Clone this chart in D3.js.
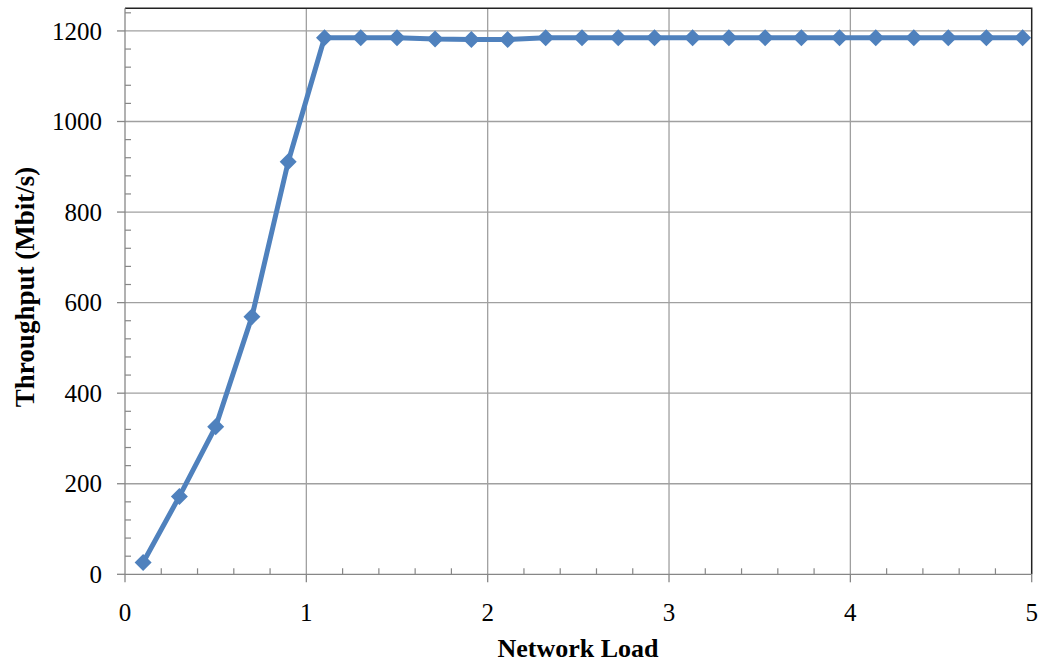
<!DOCTYPE html>
<html><head><meta charset="utf-8">
<script src="https://cdn.jsdelivr.net/npm/d3@7"></script>
<style>body{margin:0;background:#fff}svg{display:block}</style>
</head><body>
<svg id="c" width="1042" height="664"></svg>
<script>
const loadValues = [0.1,0.3,0.5,0.7,0.9,1.1,1.3,1.5,1.71,1.91,2.11,2.32,2.52,2.72,2.92,3.13,3.33,3.53,3.73,3.94,4.14,4.35,4.54,4.75,4.95];
const throughput = [26,172,326,569,911,1185,1185,1185,1182,1181,1181,1185,1185,1185,1185,1185,1185,1185,1185,1185,1185,1185,1185,1185,1185];
const xTicks = [0,1,2,3,4,5];
const yTicks = [0,200,400,600,800,1000,1200];
const xLabel = "Network Load";
const yLabel = "Throughput (Mbit/s)";

const svg = d3.select("#c");
const L=125, R=1031.7, T=8.3, B=574.3;
const x = d3.scaleLinear().domain([0,5]).range([L,R]);
const y = d3.scaleLinear().domain([0,1250]).range([B,T]);
const grid="#a0a0a0", axisC="#878787", font="'Liberation Serif','Times New Roman',serif";

// gridlines
svg.append("g").selectAll("line").data(yTicks.filter(d=>d>0)).join("line")
 .attr("x1",L).attr("x2",R).attr("y1",d=>y(d)).attr("y2",d=>y(d)).attr("stroke",grid).attr("stroke-width",1.3);
svg.append("g").selectAll("line").data(xTicks.filter(d=>d>0&&d<5)).join("line")
 .attr("y1",T).attr("y2",B).attr("x1",d=>x(d)).attr("x2",d=>x(d)).attr("stroke",grid).attr("stroke-width",1.3);
// border top/right
svg.append("path").attr("d",`M${L},${T}H${R}V${B}`).attr("fill","none").attr("stroke","#222").attr("stroke-width",1.5);

// y axis
const yMinor = d3.range(0,1250.1,40);
const ya = svg.append("g").attr("transform",`translate(${L},0)`);
ya.append("line").attr("x1",0).attr("x2",0).attr("y1",T).attr("y2",B).attr("stroke",axisC).attr("stroke-width",1.3);
ya.selectAll(".mn").data(yMinor.filter(d=>d%200!==0)).join("line").attr("x1",0).attr("x2",6).attr("y1",d=>y(d)).attr("y2",d=>y(d)).attr("stroke",axisC).attr("stroke-width",1.2);
ya.selectAll(".mj").data(yTicks).join("line").attr("x1",-8).attr("x2",0).attr("y1",d=>y(d)).attr("y2",d=>y(d)).attr("stroke",axisC).attr("stroke-width",1.3);
ya.selectAll("text").data(yTicks).join("text").attr("x",-23).attr("y",d=>y(d)).attr("dy","0.35em").attr("text-anchor","end")
 .attr("font-family",font).attr("font-size",25).attr("fill","#000").text(d=>d);

// x axis
const xMinor = d3.range(0,5.001,0.2);
const xa = svg.append("g").attr("transform",`translate(0,${B})`);
xa.append("line").attr("x1",L).attr("x2",R).attr("stroke",axisC).attr("stroke-width",1.3);
xa.selectAll(".mn").data(xMinor.filter(d=>Math.abs(d-Math.round(d))>1e-6)).join("line").attr("x1",d=>x(d)).attr("x2",d=>x(d)).attr("y1",-6).attr("y2",0).attr("stroke",axisC).attr("stroke-width",1.2);
xa.selectAll(".mj").data(xTicks).join("line").attr("x1",d=>x(d)).attr("x2",d=>x(d)).attr("y1",0).attr("y2",8).attr("stroke",axisC).attr("stroke-width",1.3);
xa.selectAll("text").data(xTicks).join("text").attr("x",d=>x(d)).attr("y",47).attr("text-anchor","middle")
 .attr("font-family",font).attr("font-size",25).attr("fill","#000").text(d=>d);

// titles
svg.append("text").attr("x",578).attr("y",657).attr("text-anchor","middle").attr("font-family",font).attr("font-weight","bold").attr("font-size",26).text(xLabel);
svg.append("text").attr("transform","translate(34,287) rotate(-90)").attr("text-anchor","middle").attr("font-family",font).attr("font-weight","bold").attr("font-size",27).text(yLabel);

// series
const data = loadValues.map((v,i)=>({x:v,y:throughput[i]}));
const blue="#4f81bd";
svg.append("path").datum(data).attr("d",d3.line().x(d=>x(d.x)).y(d=>y(d.y))).attr("fill","none").attr("stroke",blue).attr("stroke-width",5).attr("stroke-linejoin","round");
svg.append("g").selectAll("path").data(data).join("path")
 .attr("transform",d=>`translate(${x(d.x)},${y(d.y)})`).attr("d","M0,-8.5L8.5,0L0,8.5L-8.5,0Z").attr("fill",blue);
</script>
</body></html>
